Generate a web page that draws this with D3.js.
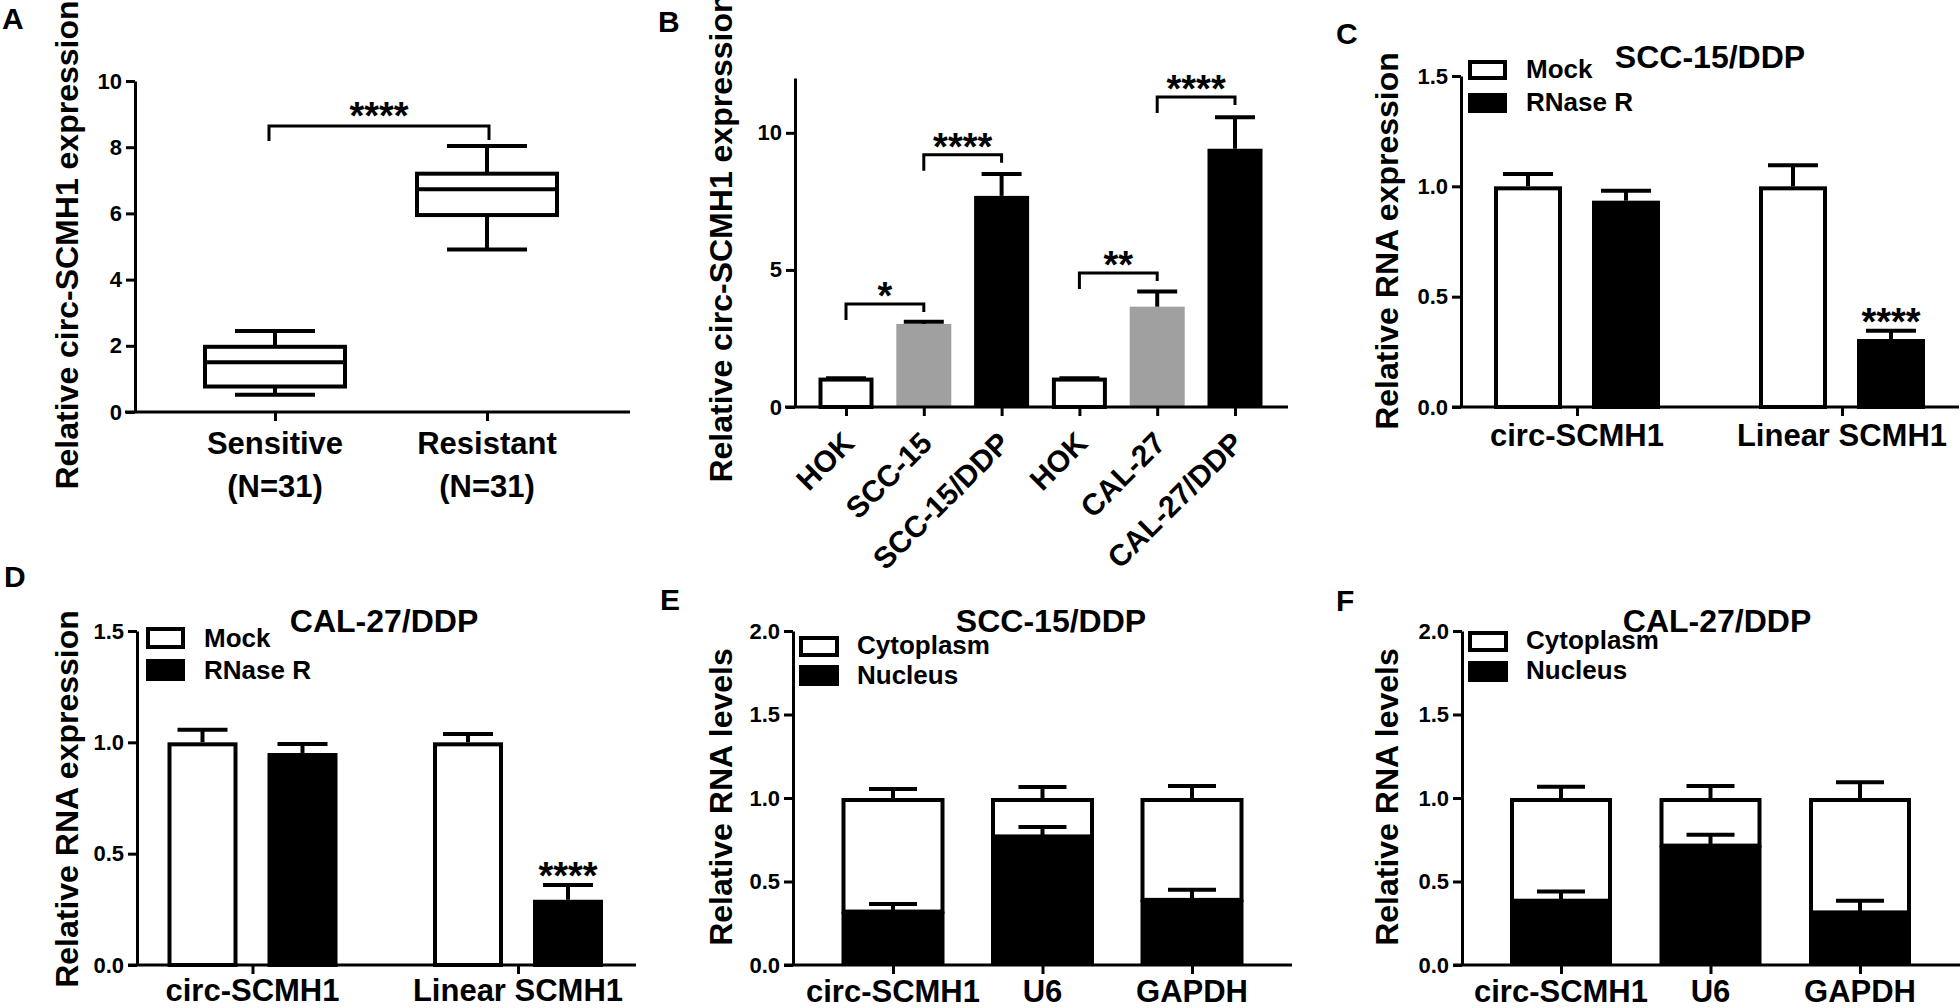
<!DOCTYPE html>
<html><head><meta charset="utf-8">
<script src="https://cdn.jsdelivr.net/npm/d3@7"></script>
<style>
html,body{margin:0;padding:0;background:#fff;}
svg{display:block;}
text{font-family:"Liberation Sans", Arial, Helvetica, sans-serif; font-weight:bold; fill:#000;}
</style></head><body>
<svg id="fig" width="1960" height="1008"></svg>
<script>
// ---------------- DATA ----------------
// Panel A: box plot
const aCategories = ["Sensitive", "Resistant"];
const aGroupSizes = ["(N=31)", "(N=31)"];
const aWhiskerLow = [0.52, 4.91];
const aQ1 = [0.77, 5.95];
const aMedian = [1.5, 6.73];
const aQ3 = [1.97, 7.2];
const aWhiskerHigh = [2.45, 8.04];
const aTicks = [0, 2, 4, 6, 8, 10];
const aSignifLabel = "****";
const aSignifLevel = 8.64;

// Panel B: cell lines
const bLines = ["HOK", "SCC-15", "SCC-15/DDP", "HOK", "CAL-27", "CAL-27/DDP"];
const bKinds = ["Normal", "Parental", "Resistant", "Normal", "Parental", "Resistant"];
const bMeans = [1.0, 3.03, 7.7, 1.0, 3.66, 9.42];
const bErrors = [0.05, 0.08, 0.8, 0.05, 0.55, 1.15];
const bTicks = [0, 5, 10];
const bBracketFrom = [0, 1, 3, 4];
const bBracketTo = [1, 2, 4, 5];
const bBracketLevel = [3.76, 9.2, 4.89, 11.31];
const bBracketLabel = ["*", "****", "**", "****"];

// Panels C & D: RNase R
const rnaTargets = ["circ-SCMH1", "Linear SCMH1"];
const treatments = ["Mock", "RNase R"];
const rnaseTicks = [0, 0.5, 1.0, 1.5];
const cMock = [1.0, 1.0];
const cMockErr = [0.056, 0.096];
const cRNase = [0.935, 0.308];
const cRNaseErr = [0.045, 0.038];
const dMock = [1.0, 1.0];
const dMockErr = [0.057, 0.037];
const dRNase = [0.952, 0.293];
const dRNaseErr = [0.04, 0.066];
const rnaseSignif = ["", "****"];

// Panels E & F: subcellular fractionation
const fracGenes = ["circ-SCMH1", "U6", "GAPDH"];
const fractions = ["Cytoplasm", "Nucleus"];
const fracTicks = [0, 0.5, 1.0, 1.5, 2.0];
const eTotal = [1.0, 1.0, 1.0];
const eNucleus = [0.32, 0.77, 0.39];
const eNucleusErr = [0.045, 0.056, 0.06];
const eCytoErr = [0.054, 0.066, 0.072];
const fTotal = [1.0, 1.0, 1.0];
const fNucleus = [0.385, 0.715, 0.315];
const fNucleusErr = [0.055, 0.065, 0.07];
const fCytoErr = [0.067, 0.072, 0.094];

// ---------------- DRAWING ----------------
const svg = d3.select("#fig");
const F_TICK = 22, F_CAT = 31, F_TITLE = 32, F_LEG = 26, F_LETTER = 30, F_STAR = 38;
const AXW = 3, LW = 4;

function text(x, y, s, size, anchor) {
  return svg.append("text").attr("x", x).attr("y", y)
    .attr("font-size", size).attr("text-anchor", anchor || "start").text(s);
}
function vtitle(bx, cy, s) {
  svg.append("text").attr("transform", `translate(${bx},${cy}) rotate(-90)`)
    .attr("text-anchor", "middle").attr("font-size", F_TITLE).text(s);
}
function leftAxis(x, scale, ticks, fmt) {
  const ax = d3.axisLeft(scale).tickValues(ticks).tickSize(9).tickSizeOuter(0)
    .tickPadding(4).tickFormat(fmt);
  const g = svg.append("g").attr("transform", `translate(${x},0)`).call(ax)
    .attr("font-family", null).attr("font-size", null);
  g.select(".domain").attr("stroke", "#000").attr("stroke-width", AXW);
  g.selectAll(".tick line").attr("stroke", "#000").attr("stroke-width", AXW);
  g.selectAll(".tick text").attr("font-size", F_TICK).attr("fill", "#000");
  return g;
}
function bottomAxis(y, x0, x1, scale) {
  svg.append("line").attr("x1", x0).attr("x2", x1).attr("y1", y).attr("y2", y)
    .attr("stroke", "#000").attr("stroke-width", AXW);
  const g = svg.append("g").attr("transform", `translate(0,${y})`)
    .call(d3.axisBottom(scale).tickSize(9).tickSizeOuter(0).tickFormat(""));
  g.select(".domain").remove();
  g.selectAll(".tick line").attr("stroke", "#000").attr("stroke-width", AXW);
  return g;
}
function errorBars(data, capW) {
  const g = svg.append("g").attr("stroke", "#000").attr("stroke-width", LW);
  g.selectAll("line.stem").data(data).join("line").attr("class", "stem")
    .attr("x1", d => d.x).attr("x2", d => d.x).attr("y1", d => d.y0).attr("y2", d => d.y1);
  g.selectAll("line.cap").data(data).join("line").attr("class", "cap")
    .attr("x1", d => d.x - capW / 2).attr("x2", d => d.x + capW / 2)
    .attr("y1", d => d.y1).attr("y2", d => d.y1);
}
function bracket(x1, x2, y, legL, legR, label, gap) {
  svg.append("path").attr("d", `M${x1},${y + legL}V${y}H${x2}V${y + legR}`)
    .attr("fill", "none").attr("stroke", "#000").attr("stroke-width", AXW);
  text((x1 + x2) / 2, y + gap, label, F_STAR, "middle");
}
function legend(x, ys, w, h, labels, fills, tx, tys) {
  const g = svg.append("g");
  g.selectAll("rect").data(labels).join("rect")
    .attr("x", x + 2).attr("y", (d, i) => ys[i] + 2).attr("width", w - 4).attr("height", h - 4)
    .attr("fill", (d, i) => fills[i]).attr("stroke", "#000").attr("stroke-width", LW);
  g.selectAll("text").data(labels).join("text")
    .attr("x", tx).attr("y", (d, i) => tys[i]).attr("font-size", F_LEG).text(d => d);
}

// ---------- Panel A ----------
(function () {
  const y = d3.scaleLinear().domain([0, 10]).range([412, 81]);
  const x = d3.scalePoint().domain(aCategories).range([275, 487]);
  const rows = aCategories.map((c, i) => ({ c, lo: aWhiskerLow[i], q1: aQ1[i], med: aMedian[i], q3: aQ3[i], hi: aWhiskerHigh[i] }));
  const bw = 140, cw = 80;
  const g = svg.append("g").attr("stroke", "#000").attr("stroke-width", LW);
  g.selectAll("line.wu").data(rows).join("line").attr("x1", d => x(d.c)).attr("x2", d => x(d.c)).attr("y1", d => y(d.hi)).attr("y2", d => y(d.q3));
  g.selectAll("line.wl").data(rows).join("line").attr("class", "wl").attr("x1", d => x(d.c)).attr("x2", d => x(d.c)).attr("y1", d => y(d.q1)).attr("y2", d => y(d.lo));
  g.selectAll("line.ch").data(rows).join("line").attr("class", "ch").attr("x1", d => x(d.c) - cw / 2).attr("x2", d => x(d.c) + cw / 2).attr("y1", d => y(d.hi)).attr("y2", d => y(d.hi));
  g.selectAll("line.cl").data(rows).join("line").attr("class", "cl").attr("x1", d => x(d.c) - cw / 2).attr("x2", d => x(d.c) + cw / 2).attr("y1", d => y(d.lo)).attr("y2", d => y(d.lo));
  g.selectAll("rect").data(rows).join("rect").attr("x", d => x(d.c) - bw / 2).attr("width", bw)
    .attr("y", d => y(d.q3)).attr("height", d => y(d.q1) - y(d.q3)).attr("fill", "#fff");
  g.selectAll("line.md").data(rows).join("line").attr("class", "md").attr("x1", d => x(d.c) - bw / 2).attr("x2", d => x(d.c) + bw / 2).attr("y1", d => y(d.med)).attr("y2", d => y(d.med));
  leftAxis(135, y, aTicks, d3.format("d"));
  bottomAxis(412, 125, 630, x);
  aCategories.forEach((c, i) => { text(x(c), 454, c, F_CAT, "middle"); text(x(c), 497, aGroupSizes[i], F_CAT, "middle"); });
  bracket(x(aCategories[0]) - 6, x(aCategories[1]) + 2, y(aSignifLevel), 15, 14, aSignifLabel, 3);
  vtitle(78, 245, "Relative circ-SCMH1 expression");
  text(2, 29, "A", F_LETTER);
})();

// ---------- Panel B ----------
(function () {
  const y = d3.scaleLinear().domain([0, 12]).range([407, 78]);
  const x = d3.scalePoint().domain(d3.range(bLines.length)).range([846, 1235]);
  const color = d3.scaleOrdinal().domain(["Normal", "Parental", "Resistant"]).range(["#fff", "#a0a0a0", "#000"]);
  const bw = 55;
  const rows = bLines.map((n, i) => ({ i, n, v: bMeans[i], e: bErrors[i], k: bKinds[i] }));
  svg.append("g").selectAll("rect").data(rows).join("rect")
    .attr("x", d => x(d.i) - bw / 2 + (d.k === "Normal" ? 2 : 0))
    .attr("width", d => bw - (d.k === "Normal" ? 4 : 0))
    .attr("y", d => y(d.v)).attr("height", d => y(0) - y(d.v))
    .attr("fill", d => color(d.k))
    .attr("stroke", d => d.k === "Normal" ? "#000" : "none").attr("stroke-width", LW);
  errorBars(rows.map(d => ({ x: x(d.i), y0: y(d.v), y1: y(d.v + d.e) })), 40);
  leftAxis(795, y, bTicks, d3.format("d"));
  bottomAxis(407, 785, 1288, x);
  svg.append("g").selectAll("text").data(rows).join("text")
    .attr("transform", d => `translate(${x(d.i) + 10},445) rotate(-45)`)
    .attr("text-anchor", "end").attr("font-size", 30).text(d => d.n);
  bBracketLabel.forEach((lab, j) => {
    bracket(x(bBracketFrom[j]), x(bBracketTo[j]), y(bBracketLevel[j]), 16, 8, lab, 5);
  });
  vtitle(732, 238, "Relative circ-SCMH1 expression");
  text(658, 32, "B", F_LETTER);
})();

// ---------- Panels C & D ----------
function rnasePanel(o, mock, mockErr, rnase, rnaseErr) {
  const y = d3.scaleLinear().domain([0, 1.5]).range([o.y0, o.y15]);
  const x = d3.scalePoint().domain(rnaTargets).range(o.groups);
  const sub = d3.scalePoint().domain(treatments).range([-o.off, o.off]);
  const fill = d3.scaleOrdinal().domain(treatments).range(["#fff", "#000"]);
  const rows = [];
  rnaTargets.forEach((t, i) => {
    rows.push({ t, tr: treatments[0], v: mock[i], e: mockErr[i], s: "" });
    rows.push({ t, tr: treatments[1], v: rnase[i], e: rnaseErr[i], s: rnaseSignif[i] });
  });
  const bw = o.bw;
  svg.append("g").selectAll("rect").data(rows).join("rect")
    .attr("x", d => x(d.t) + sub(d.tr) - bw / 2 + 2).attr("width", bw - 4)
    .attr("y", d => y(d.v) + 2).attr("height", d => y(0) - y(d.v) - 2)
    .attr("fill", d => fill(d.tr)).attr("stroke", "#000").attr("stroke-width", LW);
  errorBars(rows.map(d => ({ x: x(d.t) + sub(d.tr), y0: y(d.v), y1: y(d.v + d.e) })), 50);
  rows.filter(d => d.s).forEach(d => text(x(d.t) + sub(d.tr), y(d.v + d.e) + 4, d.s, F_STAR, "middle"));
  leftAxis(o.ax, y, rnaseTicks, d3.format(".1f"));
  bottomAxis(o.y0, o.ax - 9, o.axEnd, x);
  rnaTargets.forEach(t => text(x(t), o.catY, t, F_CAT, "middle"));
  text(o.titleX, o.titleY, o.title, F_TITLE, "middle");
  vtitle(o.vtx, o.vty, "Relative RNA expression");
  legend(o.legX, o.legY, 39, o.legH, treatments, treatments.map(fill), o.legTx, o.legTy);
  text(o.lx, o.ly, o.letter, F_LETTER);
}
rnasePanel({ y0: 407, y15: 76, groups: [1577, 1842], off: 49, bw: 68, ax: 1461, axEnd: 1959, catY: 446,
  title: "SCC-15/DDP", titleX: 1710, titleY: 68, vtx: 1398, vty: 241,
  legX: 1468, legY: [60, 93], legH: 20, legTx: 1526, legTy: [78, 111], letter: "C", lx: 1336, ly: 44 },
  cMock, cMockErr, cRNase, cRNaseErr);
rnasePanel({ y0: 965, y15: 631, groups: [252.5, 518], off: 50, bw: 70, ax: 137, axEnd: 636, catY: 1001,
  title: "CAL-27/DDP", titleX: 384, titleY: 632, vtx: 78, vty: 799,
  legX: 146, legY: [627, 659], legH: 22, legTx: 204, legTy: [647, 679], letter: "D", lx: 4, ly: 587 },
  dMock, dMockErr, dRNase, dRNaseErr);

// ---------- Panels E & F ----------
function fracPanel(o, total, nucleus, nucErr, cytoErr) {
  const y = d3.scaleLinear().domain([0, 2]).range([965, 631]);
  const x = d3.scalePoint().domain(fracGenes).range(o.range);
  const table = fracGenes.map((g, i) => ({ gene: g, Nucleus: nucleus[i], Cytoplasm: total[i] - nucleus[i] }));
  const series = d3.stack().keys(["Nucleus", "Cytoplasm"])(table);
  const fill = d3.scaleOrdinal().domain(fractions).range(["#fff", "#000"]);
  const bw = o.bw;
  series.forEach(s => {
    svg.append("g").selectAll("rect").data(s).join("rect")
      .attr("x", d => x(d.data.gene) - bw / 2 + 2).attr("width", bw - 4)
      .attr("y", d => y(d[1]) + (s.key === "Cytoplasm" ? 2 : 0))
      .attr("height", d => y(d[0]) - y(d[1]) - (s.key === "Cytoplasm" ? 2 : 0))
      .attr("fill", fill(s.key)).attr("stroke", "#000").attr("stroke-width", s.key === "Cytoplasm" ? LW : 0);
  });
  svg.append("g").selectAll("rect").data(series[0]).join("rect")
    .attr("x", d => x(d.data.gene) - bw / 2).attr("width", bw)
    .attr("y", d => y(d[1])).attr("height", d => y(d[0]) - y(d[1])).attr("fill", "#000");
  errorBars(fracGenes.map((g, i) => ({ x: x(g), y0: y(nucleus[i]), y1: y(nucleus[i] + nucErr[i]) })), 48);
  errorBars(fracGenes.map((g, i) => ({ x: x(g), y0: y(total[i]), y1: y(total[i] + cytoErr[i]) })), 48);
  leftAxis(o.ax, y, fracTicks, d3.format(".1f"));
  bottomAxis(965, o.ax - 9, o.axEnd, x);
  fracGenes.forEach(g => text(x(g), 1002, g, F_CAT, "middle"));
  text(o.titleX, 632, o.title, F_TITLE, "middle");
  vtitle(o.vtx, 797, "Relative RNA levels");
  legend(o.legX, o.legY, 40, 21, fractions, fractions.map(fill), o.legTx, o.legTy);
  text(o.lx, o.ly, o.letter, F_LETTER);
}
fracPanel({ range: [893, 1192], bw: 103, ax: 793, axEnd: 1292, title: "SCC-15/DDP", titleX: 1051, vtx: 732,
  legX: 799, legY: [636, 665], legTx: 857, legTy: [654, 684], letter: "E", lx: 660, ly: 610 },
  eTotal, eNucleus, eNucleusErr, eCytoErr);
fracPanel({ range: [1561, 1860], bw: 102, ax: 1462, axEnd: 1960, title: "CAL-27/DDP", titleX: 1717, vtx: 1398,
  legX: 1468, legY: [631, 661], legTx: 1526, legTy: [649, 679], letter: "F", lx: 1336, ly: 611 },
  fTotal, fNucleus, fNucleusErr, fCytoErr);
</script></body></html>
